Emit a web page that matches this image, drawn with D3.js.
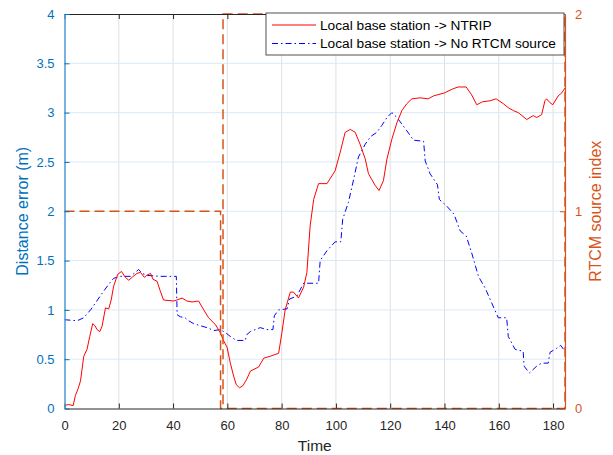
<!DOCTYPE html>
<html>
<head>
<meta charset="utf-8">
<script src="https://cdn.jsdelivr.net/npm/d3@7"></script>
<style>
  body { margin: 0; background: #fff; }
  text { font-family: "Liberation Sans", Arial, sans-serif; }
</style>
</head>
<body>
<div id="chart"></div>
<script>
// Distance error, local base station -> NTRIP
const ntripTime = [0, 1.5, 3.2, 4, 5, 5.9, 7.1, 8.3, 9.3, 10.4, 11.2, 12, 13, 13.8, 15.1, 16.3, 17.2, 18.1, 19.6, 21,
  22.4, 23.7, 24.9, 26.7, 28, 29.4, 30.3, 31.7, 32.6, 34.1, 35.3, 36.5, 40.2, 41.4, 43.3, 45.1, 47, 49.4, 51.3, 53.1,
  55.6, 57.4, 58.4, 59.9, 61.1, 62.3, 63.3, 64.5, 65.7, 67.2, 68.5, 71.5, 73.4, 75.8, 78.9, 80.1, 81.3, 83.2, 84.4, 86.2,
  88.1, 89.3, 90.5, 91.8, 93.6, 96.7, 99.7, 101.6, 103.4, 105.3, 107.1, 108.9, 110.8, 112, 114.5, 115.9, 117.5, 118.8, 120.6, 122.5,
  124.3, 126.1, 128, 131, 134, 136, 140, 143, 145, 148, 150, 151.9, 154, 156.8, 159, 161.7, 163.5, 165.4, 167.2, 170.3,
  172.7, 174, 175.8, 177, 177.6, 178.9, 179.9, 181.9, 183.2, 184.4];
const ntripErr = [0.03, 0.04, 0.03, 0.13, 0.2, 0.28, 0.53, 0.6, 0.73, 0.86, 0.84, 0.8, 0.78, 0.83, 1.02, 1.01, 1.1, 1.24, 1.36, 1.39,
  1.33, 1.3, 1.33, 1.37, 1.38, 1.33, 1.35, 1.37, 1.31, 1.29, 1.19, 1.1, 1.09, 1.1, 1.12, 1.09, 1.08, 1.09, 1.0, 0.92,
  0.85, 0.77, 0.7, 0.62, 0.46, 0.33, 0.24, 0.21, 0.23, 0.3, 0.38, 0.42, 0.51, 0.53, 0.56, 0.77, 1.0, 1.18, 1.18, 1.12,
  1.23, 1.38, 1.85, 2.12, 2.28, 2.28, 2.41, 2.6, 2.8, 2.83, 2.8, 2.68, 2.53, 2.38, 2.26, 2.21, 2.31, 2.53, 2.73, 2.9,
  3.02, 3.09, 3.14, 3.15, 3.14, 3.17, 3.2, 3.24, 3.26, 3.26, 3.18, 3.08, 3.11, 3.12, 3.14, 3.09, 3.05, 3.02, 3.0, 2.93,
  2.97, 2.95, 2.98, 3.12, 3.14, 3.1, 3.08, 3.17, 3.2, 3.25];

// Distance error, local base station -> no RTCM source
const noRtcmTime = [0, 4.7, 7.1, 9.6, 11.4, 13.9, 16.3, 18.1, 20.6, 24.3, 26.1, 27.3, 28.6, 30.4, 35.3, 41.2, 41.5, 42.7, 44.4, 45.7,
  47.6, 50, 52.5, 55, 57.4, 59.3, 61.1, 63.3, 66.6, 67.2, 68.5, 72.1, 74.6, 76.8, 77.3, 78.9, 82, 82.9, 85.6, 88.1,
  93.6, 94.2, 96.7, 99.7, 101.8, 102.5, 104.6, 106.5, 108.3, 110.8, 112.9, 115.1, 116.9, 118.8, 120.6, 122.5, 125.5, 128.6, 132.3, 132.9,
  134.7, 137.4, 138.1, 140.9, 143.5, 145.8, 148, 150, 152.5, 155, 157.4, 159.8, 162.9, 163.5, 166, 169, 169.3, 171.3, 174, 175.8,
  178.2, 178.9, 181.3, 182.8, 184.4];
const noRtcmErr = [0.9, 0.89, 0.92, 1.0, 1.07, 1.17, 1.26, 1.32, 1.34, 1.34, 1.38, 1.41, 1.37, 1.35, 1.34, 1.34, 0.95, 0.93, 0.92, 0.89,
  0.86, 0.84, 0.82, 0.79, 0.8, 0.77, 0.73, 0.69, 0.69, 0.75, 0.78, 0.82, 0.8, 0.8, 0.94, 1.0, 1.01, 1.11, 1.14, 1.27,
  1.27, 1.5, 1.6, 1.69, 1.69, 1.92, 2.09, 2.32, 2.55, 2.68, 2.76, 2.8, 2.87, 2.95, 3.0, 2.95, 2.84, 2.72, 2.71, 2.51,
  2.38, 2.27, 2.12, 2.05, 1.97, 1.8, 1.75, 1.58, 1.34, 1.22, 1.07, 0.92, 0.92, 0.73, 0.6, 0.58, 0.43, 0.36, 0.43, 0.46,
  0.46, 0.57, 0.61, 0.64, 0.58];

// RTCM source index (right axis)
const rtcmTime = [0, 57.5, 57.5, 58.4, 58.4, 184.4, 184.4, 58.4];
const rtcmIndex = [1, 1, 0, 0, 2, 2, 0, 0];

const xTicks = [0, 20, 40, 60, 80, 100, 120, 140, 160, 180];
const yLeftTicks = [0, 0.5, 1, 1.5, 2, 2.5, 3, 3.5, 4];
const yRightTicks = [0, 1, 2];
const legendLabels = ["Local base station -> NTRIP", "Local base station -> No RTCM source"];

const W = 613, H = 455;
const margin = {top: 14, right: 48, bottom: 46.5, left: 64.5};
const width = W - margin.left - margin.right,
      height = H - margin.top - margin.bottom;

const blue = "#0072BD", orange = "#D95319", dark = "#262626";
const fmt = d3.format("~g");

const svg = d3.select("#chart").append("svg")
    .attr("width", W).attr("height", H)
    .style("background", "#fff");

const g = svg.append("g")
    .attr("transform", `translate(${margin.left},${margin.top})`);

const x = d3.scaleLinear().domain([0, 184.4]).range([0, width]);
const yL = d3.scaleLinear().domain([0, 4]).range([height, 0]);
const yR = d3.scaleLinear().domain([0, 2]).range([height, 0]);

g.append("clipPath").attr("id", "clip")
  .append("rect").attr("x", -1).attr("y", -1).attr("width", width + 2).attr("height", height + 2);

// Grid
g.append("g").selectAll("line").data(xTicks.filter(d => d > 0)).join("line")
    .attr("x1", d => x(d)).attr("x2", d => x(d))
    .attr("y1", 0).attr("y2", height)
    .attr("stroke", "#dfdfdf").attr("stroke-width", 1);
g.append("g").selectAll("line").data(yLeftTicks.filter(d => d > 0 && d < 4)).join("line")
    .attr("x1", 0).attr("x2", width)
    .attr("y1", d => yL(d)).attr("y2", d => yL(d))
    .attr("stroke", "#d9eaf5").attr("stroke-width", 1);

// Lines
const lineL = d3.line().x(d => x(d[0])).y(d => yL(d[1]));
const lineR = d3.line().x(d => x(d[0])).y(d => yR(d[1]));

const plot = g.append("g").attr("clip-path", "url(#clip)");

plot.append("path")
    .datum(noRtcmTime.map((t, i) => [t, noRtcmErr[i]]))
    .attr("fill", "none").attr("stroke", "#0000FF").attr("stroke-width", 1)
    .attr("stroke-dasharray", "6,3,1.5,3")
    .attr("d", lineL);

plot.append("path")
    .datum(ntripTime.map((t, i) => [t, ntripErr[i]]))
    .attr("fill", "none").attr("stroke", "#FF0000").attr("stroke-width", 1)
    .attr("d", lineL);

plot.append("path")
    .datum(rtcmTime.map((t, i) => [t, rtcmIndex[i]]))
    .attr("fill", "none").attr("stroke", orange).attr("stroke-width", 1.5)
    .attr("stroke-dasharray", "10,5")
    .attr("d", lineR);

// Axes
const axB = g.append("g").attr("transform", `translate(0,${height})`)
    .call(d3.axisBottom(x).tickValues(xTicks).tickSizeInner(-5).tickSizeOuter(0).tickPadding(12));
axB.select(".domain").attr("stroke", dark);
axB.selectAll(".tick line").attr("stroke", dark);
axB.selectAll("text").attr("fill", dark).style("font-size", "13px");

const axT = g.append("g").call(d3.axisTop(x).tickValues(xTicks).tickSizeInner(-5).tickSizeOuter(0).tickFormat(""));
axT.select(".domain").attr("stroke", dark);
axT.selectAll(".tick line").attr("stroke", dark);

const axL = g.append("g")
    .call(d3.axisLeft(yL).tickValues(yLeftTicks).tickFormat(fmt).tickSizeInner(-5).tickSizeOuter(0).tickPadding(10));
axL.select(".domain").attr("stroke", "#4a9ad3").attr("stroke-width", 1.5);
axL.selectAll(".tick line").attr("stroke", blue);
axL.selectAll("text").attr("fill", blue).style("font-size", "13px");

const axR = g.append("g").attr("transform", `translate(${width},0)`)
    .call(d3.axisRight(yR).tickValues(yRightTicks).tickFormat(fmt).tickSizeInner(-5).tickSizeOuter(0).tickPadding(10));
axR.select(".domain").attr("stroke", orange).attr("stroke-width", 1.2);
axR.selectAll(".tick line").attr("stroke", orange);
axR.selectAll("text").attr("fill", orange).style("font-size", "13px");

// Axis labels
svg.append("text")
    .attr("x", margin.left + width / 2).attr("y", 451)
    .attr("text-anchor", "middle").attr("fill", dark)
    .style("font-size", "15.5px").text("Time");
svg.append("text")
    .attr("transform", `translate(28,${margin.top + height / 2}) rotate(-90)`)
    .attr("text-anchor", "middle").attr("fill", blue)
    .style("font-size", "16px").text("Distance error (m)");
svg.append("text")
    .attr("transform", `translate(601,${margin.top + height / 2}) rotate(-90)`)
    .attr("text-anchor", "middle").attr("fill", orange)
    .style("font-size", "16px").text("RTCM source index");

// Legend
const lg = svg.append("g").attr("transform", "translate(266,13)");
lg.append("rect").attr("width", 298).attr("height", 42)
    .attr("fill", "#fff").attr("stroke", dark).attr("stroke-width", 0.8);
const styles = [{c: "#FF0000", dash: null}, {c: "#0000FF", dash: "6,3,1.5,3"}];
legendLabels.forEach((lab, i) => {
  const yy = 12 + i * 18.5;
  lg.append("line").attr("x1", 6).attr("x2", 50).attr("y1", yy).attr("y2", yy)
    .attr("stroke", styles[i].c).attr("stroke-width", 1)
    .attr("stroke-dasharray", styles[i].dash);
  lg.append("text").attr("x", 54).attr("y", yy + 4.8)
    .attr("fill", "#000").style("font-size", "13.7px").text(lab);
});
</script>
</body>
</html>
